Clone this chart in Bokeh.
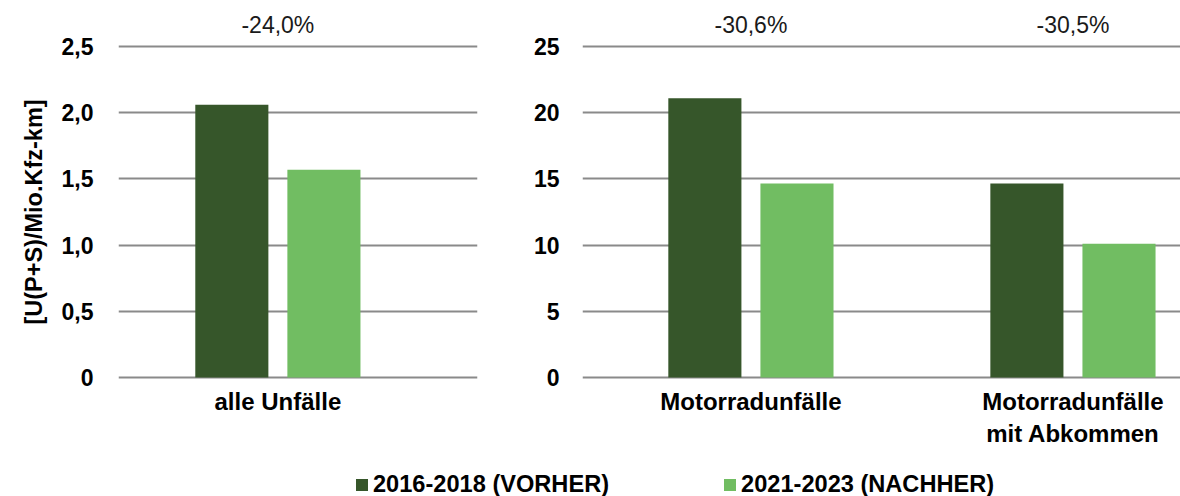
from bokeh.plotting import figure
from bokeh.layouts import column, row
from bokeh.models import Range1d, FixedTicker, ColumnDataSource, Legend, LegendItem, LinearAxis
from bokeh.transform import dodge
from bokeh.embed import file_html
from bokeh.resources import INLINE

# ---------------- data ----------------
series = ["2016-2018 (VORHER)", "2021-2023 (NACHHER)"]
colors = ["#36562A", "#71BD62"]

left_categories = ["alle Unfälle"]
left_vorher = [2.06]
left_nachher = [1.57]
left_change = ["-24,0%"]
left_ticks = [0, 0.5, 1.0, 1.5, 2.0, 2.5]
left_tick_labels = ["0", "0,5", "1,0", "1,5", "2,0", "2,5"]

right_categories = ["Motorradunfälle", "Motorradunfälle\nmit Abkommen"]
right_vorher = [21.1, 14.65]
right_nachher = [14.65, 10.1]
right_change = ["-30,6%", "-30,5%"]
right_ticks = [0, 5, 10, 15, 20, 25]
right_tick_labels = ["0", "5", "10", "15", "20", "25"]

y_title = "[U(P+S)/Mio.Kfz-km]"

# ---------------- style / layout ----------------
FONT = "Liberation Sans"
BAR_W = 0.227
OFF = 0.143
ROW_H = 464
TOP = 43
FRAME_H = 337
PAD = 0.00906   # small value padding above top tick / below zero (fraction of top tick)


def style_axis(ax, size, bold, standoff):
    ax.axis_line_color = None
    ax.major_tick_line_color = None
    ax.minor_tick_line_color = None
    ax.major_tick_out = 0
    ax.minor_tick_out = 0
    ax.major_label_standoff = standoff
    ax.major_label_text_font = FONT
    ax.major_label_text_font_style = "bold" if bold else "normal"
    ax.major_label_text_font_size = size
    ax.major_label_text_color = "#000000" if bold else "#1a1a1a"


def panel(cats, v1, v2, changes, ticks, labels, width, xr, border_left, border_right,
          tick_standoff, ylabel=None):
    n = len(cats)
    idx = list(range(n))
    top = ticks[-1]
    src = ColumnDataSource(dict(x=idx, v1=v1, v2=v2))
    p = figure(width=width, height=ROW_H, x_range=Range1d(*xr),
               y_range=Range1d(-PAD * top, top * (1 + PAD)),
               output_backend="svg", toolbar_location=None,
               min_border_left=border_left, min_border_right=border_right,
               min_border_top=TOP, min_border_bottom=ROW_H - TOP - FRAME_H)
    p.outline_line_color = None
    p.background_fill_color = "white"
    p.border_fill_color = "white"

    p.vbar(x=dodge("x", -OFF, range=p.x_range), top="v1", bottom=0, width=BAR_W, source=src,
           fill_color=colors[0], line_color=None)
    p.vbar(x=dodge("x", OFF, range=p.x_range), top="v2", bottom=0, width=BAR_W, source=src,
           fill_color=colors[1], line_color=None)

    # x axis (categories)
    p.xaxis.ticker = FixedTicker(ticks=idx)
    p.xaxis.major_label_overrides = {i: c for i, c in enumerate(cats)}
    style_axis(p.xaxis[0], "24px", True, 7)
    p.xgrid.visible = False

    # percentage change above each group
    top_axis = LinearAxis(ticker=FixedTicker(ticks=idx),
                          major_label_overrides={i: c for i, c in enumerate(changes)})
    style_axis(top_axis, "23px", False, 6)
    p.add_layout(top_axis, "above")

    # y axis
    p.yaxis.ticker = FixedTicker(ticks=ticks)
    p.yaxis.major_label_overrides = {t: l for t, l in zip(ticks, labels)}
    style_axis(p.yaxis[0], "23px", True, tick_standoff)
    if ylabel:
        p.yaxis.axis_label = ylabel
        p.yaxis.axis_label_text_font = FONT
        p.yaxis.axis_label_text_font_style = "bold"
        p.yaxis.axis_label_text_font_size = "23.5px"
        p.yaxis.axis_label_text_color = "#000000"
        p.yaxis.axis_label_standoff = 12
    p.ygrid.ticker = FixedTicker(ticks=ticks)
    p.ygrid.grid_line_color = "#8a8a8a"
    p.ygrid.grid_line_width = 2
    return p, src


left, left_src = panel(left_categories, left_vorher, left_nachher, left_change, left_ticks,
                       left_tick_labels, 488, (-0.495, 0.62), 118, 11, 25, ylabel=y_title)
right, right_src = panel(right_categories, right_vorher, right_nachher, right_change,
                         right_ticks, right_tick_labels, 692, (-0.523, 1.334), 94, 0, 23)

# ---------------- legend ----------------
# the legend strip holds copies of the left-panel bars outside its visible ranges;
# only their legend entries are seen
lf = figure(width=1180, height=496 - ROW_H, output_backend="svg", toolbar_location=None,
            x_range=Range1d(-20, -10), y_range=Range1d(-20, -10),
            x_axis_type=None, y_axis_type=None, min_border=0)
lf.outline_line_color = None
lf.xgrid.visible = False
lf.ygrid.visible = False
r1 = lf.vbar(x="x", top="v1", bottom=0, width=0.1, source=left_src,
             fill_color=colors[0], line_color=None)
r2 = lf.vbar(x="x", top="v2", bottom=0, width=0.1, source=left_src,
             fill_color=colors[1], line_color=None)
legend = Legend(items=[LegendItem(label=series[0], renderers=[r1]),
                       LegendItem(label=series[1], renderers=[r2])],
                orientation="horizontal", location=(354, -2),
                glyph_width=15, glyph_height=15, label_standoff=4, spacing=113,
                padding=0, margin=0, border_line_color=None, background_fill_alpha=0,
                label_text_font=FONT, label_text_font_style="bold",
                label_text_font_size="23.6px", label_text_color="#000000")
lf.add_layout(legend, "center")

layout = column(row(left, right, spacing=0), lf, spacing=0)

open("out.html", "w").write(file_html(layout, INLINE))
